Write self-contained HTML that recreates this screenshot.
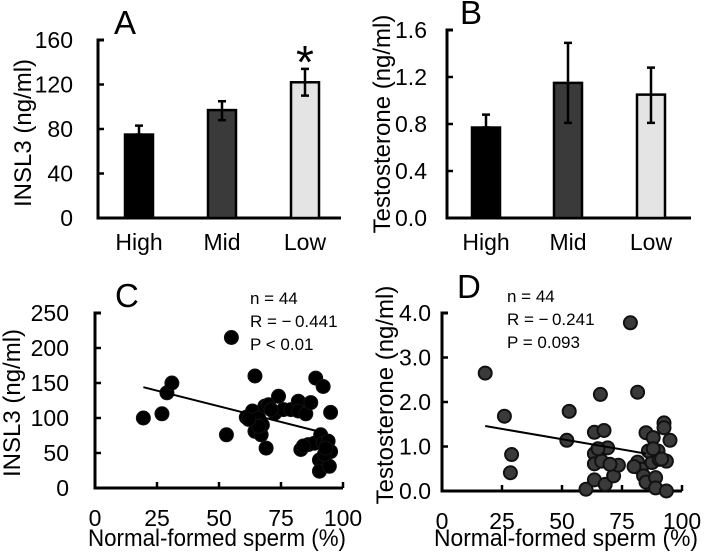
<!DOCTYPE html>
<html><head><meta charset="utf-8"><style>
html,body{margin:0;padding:0;background:#fff;}
svg{display:block;font-family:"Liberation Sans",Arial,sans-serif;}
</style></head><body>
<svg id="fig" width="708" height="559" viewBox="0 0 708 559"></svg>
<script>
const barCats=["High","Mid","Low"];
const insl3Means=[75,97,122];
const insl3Lo=[75,88,110];
const insl3Hi=[83,105,134];
const testoMeans=[0.77,1.15,1.05];
const testoLo=[0.77,0.81,0.81];
const testoHi=[0.88,1.49,1.28];
const barFills=["#000","#3a3a3a","#e4e4e4"];
const insl3Ticks=[0,40,80,120,160];
const testoTicks=["0.0","0.4","0.8","1.2","1.6"];
const scatXTicks=[0,25,50,75,100];
const cTicks=[0,50,100,150,200,250];
const dTicks=["0.0","1.0","2.0","3.0","4.0"];
const cX=[19.5,27,29,31,55,53,64.5,61,63.5,64.5,67,66,68.5,70,67.5,69,74,72.5,76,79,82,82,85,87,89,92,95,83,86,88.5,91,92,94,95,90.5,92,90.5,94.5,92.5,66,62,71,84,93];
const cY=[100,106,136,150,215,76,160,101,110,81,76,100,117,119,90,57,131,107,112,112,124,110,106,122,157,145,108,55,62,64,76,64,67,52,40,33,24,31,48,88,98,112,60,57];
const cLineX=[19.5,91];
const cLineY=[144,80];
const dX=[18,26,29,28.5,53,52,60,63.5,63.5,63.5,63.5,66,67.5,66.5,66.5,69,68,71.5,73.5,78.5,81.5,81.5,83,84,85,85,87,88,87.5,90,90.5,89,89,92.5,92.5,93.5,95,93.5,86,91.5,65,80,88,70];
const dY=[2.65,1.68,0.82,0.41,1.79,1.14,0.04,1.32,0.84,0.61,0.25,2.17,1.36,0.93,0.67,0.97,0.15,0.34,0.58,3.78,2.22,0.65,0.49,0.34,0.2,1.31,0.86,1.2,0.64,0.9,0.71,0.3,0.07,1.53,1.42,0.67,1.14,0.0,0.9,0.72,0.95,0.55,0.95,0.6];
const dLineX=[18,85];
const dLineY=[1.46,0.84];

const NS="http://www.w3.org/2000/svg";
const svg=document.getElementById('fig');
function mk(tag,attrs,parent){const e=document.createElementNS(NS,tag);for(const k in attrs)e.setAttribute(k,attrs[k]);(parent||svg).appendChild(e);return e;}
function txt(s,x,y,size,anchor,parent,extra){const t=mk('text',Object.assign({x:x,y:y,'font-size':size,'text-anchor':anchor||'middle',fill:'#000'},extra||{}),parent);t.textContent=s;return t;}

function barPanel(o){
  const g=mk('g',{});
  
  
  const ys=v=>o.y0-(v-o.vmin)/(o.vmax-o.vmin)*(o.y0-o.y1);
  const ax=mk('path',{d:`M${o.x0+6},${o.y1} H${o.x0} V${o.y0} H${o.xEnd}`,stroke:'#000','stroke-width':3,fill:'none'},g);
  
  
  o.ticks.forEach(t=>{const v=+t;const y=ys(v);
    mk('line',{x1:o.x0,x2:o.x0+6,y1:y,y2:y,stroke:'#000','stroke-width':2.5},g);
    const l=txt(String(t),o.x0-o.gap,y+8,23,'end',g);
    
    
  });
  o.means.forEach((m,i)=>{const cx=o.centers[i];
    const r=mk('rect',{x:cx-14,y:ys(m),width:28,height:o.y0-ys(m),fill:barFills[i],stroke:'#000','stroke-width':2.5},g);
    
    
    const e=mk('path',{d:`M${cx},${ys(o.lo[i])} V${ys(o.hi[i])} M${cx-4},${ys(o.hi[i])} H${cx+4} M${cx-4},${ys(o.lo[i])} H${cx+4}`,stroke:'#000','stroke-width':2.5,fill:'none'},g);
    
    
    const l=txt(barCats[i],cx,o.y0+32,23,'middle',g);
    
    
  });
  const yt=txt(o.ytitle,0,0,24,'middle',g,{transform:`translate(${o.ytx},${o.yty}) rotate(-90)`});
  
  
  const pl=txt(o.letter,o.lx,o.ly,33,'start',g);
  
  
  return {g,ys};
}
const A=barPanel({name:'panel-a-insl3-bars',x0:98,y0:218,y1:40,xEnd:341,vmin:0,vmax:160,gap:25,ticks:insl3Ticks,means:insl3Means,lo:insl3Lo,hi:insl3Hi,centers:[139,222,305],ytitle:'INSL3 (ng/ml)',ytx:31,yty:133,letter:'A',lx:114,ly:34});
const star=txt('*',305,78,46,'middle',A.g);


barPanel({name:'panel-b-testosterone-bars',x0:447,y0:218,y1:30,xEnd:691,vmin:0,vmax:1.6,gap:20,ticks:testoTicks,means:testoMeans,lo:testoLo,hi:testoHi,centers:[486,568,651],ytitle:'Testosterone (ng/ml)',ytx:390,yty:124,letter:'B',lx:460,ly:24});

function scatter(o){
  const g=mk('g',{});
  
  
  const xs=v=>o.x0+v/100*(o.x100-o.x0);
  const ys=v=>o.y0-(v-o.vmin)/(o.vmax-o.vmin)*(o.y0-o.y1);
  const ax=mk('path',{d:`M${o.x0+6},${o.y1} H${o.x0} V${o.y0} H${o.x100}`,stroke:'#000','stroke-width':3,fill:'none'},g);
  
  
  o.yticks.forEach(t=>{const y=ys(+t);
    mk('line',{x1:o.x0,x2:o.x0+6,y1:y,y2:y,stroke:'#000','stroke-width':2.5},g);
    const l=txt(String(t),o.x0-o.gap,y+8,23,'end',g);
    
    
  });
  scatXTicks.forEach(t=>{const x=xs(t);
    mk('line',{x1:x,x2:x,y1:o.y0,y2:o.y0-6,stroke:'#000','stroke-width':2.5},g);
    const l=txt(String(t),x,o.y0+38,23,'middle',g);
    
    
  });
  o.xs.forEach((v,i)=>{
    const c=mk('circle',{cx:xs(v),cy:ys(o.ys[i]),r:o.r,fill:o.fill,stroke:'#111','stroke-width':o.sw},g);
    
    
  });
  const ln=mk('line',{x1:xs(o.lx[0]),y1:ys(o.ly[0]),x2:xs(o.lx[1]),y2:ys(o.ly[1]),stroke:'#000','stroke-width':2},g);
  
  
  const xt=txt('Normal-formed sperm (%)',o.xtx,546,24,'start',g,{textLength:o.xtl,lengthAdjust:'spacingAndGlyphs'});
  
  
  const yt=txt(o.ytitle,0,0,24,'middle',g,{transform:`translate(${o.ytx},${o.yty}) rotate(-90)`});
  
  
  const pl=txt(o.letter,o.plx,o.ply,33,'start',g);
  
  
  o.stats.forEach((s,i)=>{const t=txt(s,o.sx,o.sy+i*23,17,'start',g);
    
    });
}
scatter({name:'panel-c-insl3-scatter',x0:95,x100:343,y0:488,y1:313,vmin:0,vmax:250,gap:26,yticks:cTicks,xs:cX,ys:cY,lx:cLineX,ly:cLineY,r:7,fill:'#000',sw:1,xtx:88,xtl:258,ytitle:'INSL3 (ng/ml)',ytx:20,yty:403,letter:'C',plx:115,ply:307,stats:['n = 44','R = \u2212\u20090.441','P < 0.01'],sx:250,sy:304});
scatter({name:'panel-d-testosterone-scatter',x0:442,x100:682,y0:491,y1:313,vmin:0,vmax:4,gap:11,yticks:dTicks,xs:dX,ys:dY,lx:dLineX,ly:dLineY,r:6.5,fill:'#3a3a3a',sw:2,xtx:434,xtl:264,ytitle:'Testosterone (ng/ml)',ytx:393,yty:395,letter:'D',plx:457,ply:298,stats:['n = 44','R = \u2212\u20090.241','P = 0.093'],sx:507,sy:302});
</script>
</body></html>
